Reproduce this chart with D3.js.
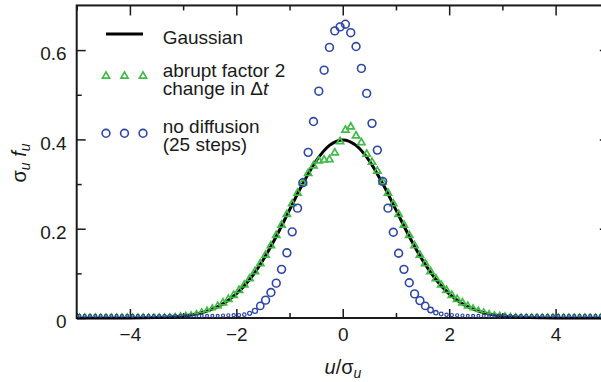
<!DOCTYPE html>
<html>
<head>
<meta charset="utf-8">
<script src="https://cdn.jsdelivr.net/npm/d3@7"></script>
<style>
  body { margin: 0; background: #fff; }
  svg { display: block; font-family: "Liberation Sans", Arial, Helvetica, sans-serif; }
</style>
</head>
<body>
<div id="chart"></div>
<script>
// bin centres (u / sigma_u) shared by both simulated series
const binCenters = [
  -4.95, -4.85, -4.75, -4.65, -4.55, -4.45, -4.35, -4.25, -4.15, -4.05,
  -3.95, -3.85, -3.75, -3.65, -3.55, -3.45, -3.35, -3.25, -3.15, -3.05,
  -2.95, -2.85, -2.75, -2.65, -2.55, -2.45, -2.35, -2.25, -2.15, -2.05,
  -1.95, -1.85, -1.75, -1.65, -1.55, -1.45, -1.35, -1.25, -1.15, -1.05,
  -0.95, -0.85, -0.75, -0.65, -0.55, -0.45, -0.35, -0.25, -0.15, -0.05,
  0.05, 0.15, 0.25, 0.35, 0.45, 0.55, 0.65, 0.75, 0.85, 0.95,
  1.05, 1.15, 1.25, 1.35, 1.45, 1.55, 1.65, 1.75, 1.85, 1.95,
  2.05, 2.15, 2.25, 2.35, 2.45, 2.55, 2.65, 2.75, 2.85, 2.95,
  3.05, 3.15, 3.25, 3.35, 3.45, 3.55, 3.65, 3.75, 3.85, 3.95,
  4.05, 4.15, 4.25, 4.35, 4.45, 4.55, 4.65, 4.75, 4.85, 4.95
];

// abrupt factor 2 change in dt (green triangles)
const abruptValues = [
  0.006, 0.006, 0.006, 0.006, 0.006, 0.006, 0.006, 0.006, 0.006, 0.006,
  0.006, 0.006, 0.006, 0.006, 0.006, 0.006, 0.006, 0.0065, 0.007, 0.008,
  0.009, 0.010, 0.012, 0.015, 0.018, 0.022, 0.027, 0.034, 0.042, 0.051,
  0.062, 0.074, 0.088, 0.104, 0.122, 0.141, 0.162, 0.185, 0.208, 0.232,
  0.256, 0.280, 0.303, 0.324, 0.341, 0.352, 0.354, 0.355, 0.370, 0.395,
  0.421, 0.428, 0.408, 0.393, 0.367, 0.349, 0.329, 0.305, 0.280, 0.256,
  0.232, 0.208, 0.185, 0.162, 0.141, 0.122, 0.104, 0.088, 0.074, 0.062,
  0.051, 0.042, 0.034, 0.027, 0.022, 0.018, 0.015, 0.012, 0.010, 0.009,
  0.008, 0.007, 0.0065, 0.006, 0.006, 0.006, 0.006, 0.006, 0.006, 0.006,
  0.006, 0.006, 0.006, 0.006, 0.006, 0.006, 0.006, 0.006, 0.006, 0.006
];

// no diffusion, 25 steps (blue circles)
const noDiffValues = [
  0.005, 0.005, 0.005, 0.005, 0.005, 0.005, 0.005, 0.005, 0.005, 0.005,
  0.005, 0.005, 0.005, 0.005, 0.005, 0.005, 0.005, 0.005, 0.005, 0.005,
  0.005, 0.005, 0.005, 0.005, 0.005, 0.005, 0.005, 0.0055, 0.006, 0.0062,
  0.0065, 0.0075, 0.0105, 0.016, 0.027, 0.040, 0.057, 0.078, 0.109, 0.146,
  0.193, 0.246, 0.303, 0.371, 0.440, 0.508, 0.555, 0.606, 0.643, 0.652,
  0.658, 0.639, 0.608, 0.559, 0.503, 0.436, 0.376, 0.306, 0.246, 0.192,
  0.145, 0.109, 0.079, 0.054, 0.039, 0.027, 0.018, 0.012, 0.009, 0.007,
  0.0065, 0.006, 0.0055, 0.005, 0.005, 0.005, 0.005, 0.005, 0.005, 0.005,
  0.005, 0.005, 0.005, 0.005, 0.005, 0.005, 0.005, 0.005, 0.005, 0.005,
  0.005, 0.005, 0.005, 0.005, 0.005, 0.005, 0.005, 0.005, 0.005, 0.005
];

// reference Gaussian curve
const gaussU = [-5, -4.5, -4, -3.75, -3.5, -3.25, -3, -2.75, -2.5, -2.25, -2, -1.75, -1.5, -1.25, -1, -0.75, -0.5, -0.25,
  0, 0.25, 0.5, 0.75, 1, 1.25, 1.5, 1.75, 2, 2.25, 2.5, 2.75, 3, 3.25, 3.5, 3.75, 4, 4.5, 5];
const gaussV = [0, 0, 0.0001, 0.0004, 0.0009, 0.0020, 0.0044, 0.0091, 0.0175, 0.0317, 0.0540, 0.0863, 0.1295, 0.1826, 0.2420, 0.3011, 0.3521, 0.3867,
  0.3989, 0.3867, 0.3521, 0.3011, 0.2420, 0.1826, 0.1295, 0.0863, 0.0540, 0.0317, 0.0175, 0.0091, 0.0044, 0.0020, 0.0009, 0.0004, 0.0001, 0, 0];

const xMajor = [-4, -2, 0, 2, 4];
const xMinor = [-5, -3, -1, 1, 3, 5];
const yMajor = [0, 0.2, 0.4, 0.6];
const yMinor = [0.1, 0.3, 0.5];

const width = 601, height = 382;
const plot = {left: 76.7, right: 608.8, top: 5.45, bottom: 318};
const blue = "#2d45a8", green = "#3fbb46";
const triSize = 22, circR = 3.9;

const svg = d3.select("#chart").append("svg")
  .attr("width", width)
  .attr("height", height);

const x = d3.scaleLinear().domain([-5, 5]).range([plot.left, plot.right]);
const y = d3.scaleLinear().domain([0, 0.7]).range([plot.bottom, plot.top]);

// axes: ticks point inward on all four sides
function drawAxis(axis, tx, ty, labels) {
  const g = svg.append("g")
    .attr("transform", "translate(" + tx + "," + ty + ")")
    .call(axis);
  g.select(".domain").remove();
  g.selectAll(".tick line").attr("stroke", "#1a1a1a").attr("stroke-width", 1.5);
  g.selectAll("text").attr("fill", "#1a1a1a").style("font-size", "19px");
  if (!labels) g.selectAll("text").remove();
  return g;
}

const fmtY = d => d === 0 ? "0" : d3.format(".1f")(d);

drawAxis(d3.axisBottom(x).tickValues(xMajor).tickSize(-9).tickPadding(10).tickFormat(d3.format("d")), 0, plot.bottom, true);
drawAxis(d3.axisBottom(x).tickValues(xMinor).tickSize(-5).tickFormat(""), 0, plot.bottom, false);
drawAxis(d3.axisTop(x).tickValues(xMajor).tickSize(-10), 0, plot.top, false);
drawAxis(d3.axisTop(x).tickValues(xMinor).tickSize(-5), 0, plot.top, false);

const yAx = drawAxis(d3.axisLeft(y).tickValues(yMajor).tickSize(-9).tickPadding(10).tickFormat(fmtY), plot.left, 0, true);
yAx.selectAll("text").attr("dy", "0.52em");
drawAxis(d3.axisLeft(y).tickValues(yMinor).tickSize(-5).tickFormat(""), plot.left, 0, false);
drawAxis(d3.axisRight(y).tickValues(yMajor).tickSize(-9), plot.right, 0, false);
drawAxis(d3.axisRight(y).tickValues(yMinor).tickSize(-5), plot.right, 0, false);

// frame
svg.append("rect")
  .attr("x", plot.left).attr("y", plot.top)
  .attr("width", plot.right - plot.left).attr("height", plot.bottom - plot.top)
  .attr("fill", "none")
  .attr("stroke", "#1a1a1a")
  .attr("stroke-width", 2);

// Gaussian line
const gauss = gaussU.map((u, i) => ({u: u, v: gaussV[i]}));
svg.append("path")
  .datum(gauss)
  .attr("fill", "none")
  .attr("stroke", "#000")
  .attr("stroke-width", 3)
  .attr("d", d3.line().x(d => x(d.u)).y(d => y(d.v)).curve(d3.curveMonotoneX));

// markers shrink where the density is close to zero
const shrink = v => Math.min(1, 0.25 + 0.75 * v / 0.03);

const abrupt = binCenters.map((u, i) => ({u: u, v: abruptValues[i]}));
const noDiff = binCenters.map((u, i) => ({u: u, v: noDiffValues[i]}));

svg.append("g").selectAll("path")
  .data(abrupt)
  .join("path")
  .attr("transform", d => "translate(" + x(d.u) + "," + y(d.v) + ")")
  .attr("d", d => d3.symbol(d3.symbolTriangle, triSize * shrink(d.v) * shrink(d.v))())
  .attr("fill", "none")
  .attr("stroke", green)
  .attr("stroke-linejoin", "miter")
  .attr("stroke-width", d => 0.9 + 0.8 * shrink(d.v));

svg.append("g").selectAll("circle")
  .data(noDiff)
  .join("circle")
  .attr("cx", d => x(d.u))
  .attr("cy", d => y(d.v))
  .attr("r", d => circR * shrink(d.v))
  .attr("fill", "none")
  .attr("stroke", blue)
  .attr("stroke-width", d => 0.9 + 0.7 * shrink(d.v));

// legend
const legend = svg.append("g").style("font-size", "19px").attr("fill", "#1a1a1a");
const legendX = [106, 124.5, 143];

legend.append("line")
  .attr("x1", 106).attr("x2", 143)
  .attr("y1", 34).attr("y2", 34)
  .attr("stroke", "#000").attr("stroke-width", 3);
legend.append("text").attr("x", 162.7).attr("y", 44.3).text("Gaussian");

legend.selectAll(".lt")
  .data(legendX)
  .join("path")
  .attr("transform", d => "translate(" + d + ",76)")
  .attr("d", d3.symbol(d3.symbolTriangle, triSize)())
  .attr("fill", "none").attr("stroke", green).attr("stroke-width", 1.7);
legend.append("text").attr("x", 162.7).attr("y", 76.7).text("abrupt factor 2");
const t2 = legend.append("text").attr("x", 162.7).attr("y", 95);
t2.append("tspan").text("change in Δ");
t2.append("tspan").style("font-style", "italic").text("t");

legend.selectAll(".lc")
  .data(legendX)
  .join("circle")
  .attr("cx", d => d).attr("cy", 133.3).attr("r", circR)
  .attr("fill", "none").attr("stroke", blue).attr("stroke-width", 1.6);
legend.append("text").attr("x", 162.7).attr("y", 132.7).text("no diffusion");
legend.append("text").attr("x", 162.7).attr("y", 150.7).text("(25 steps)");

// axis titles
const xt = svg.append("text")
  .attr("x", 343).attr("y", 374)
  .attr("text-anchor", "middle")
  .attr("fill", "#1a1a1a")
  .style("font-size", "20px");
xt.append("tspan").style("font-style", "italic").text("u");
xt.append("tspan").text("/σ");
xt.append("tspan").style("font-style", "italic").style("font-size", "14px").attr("dy", 4).text("u");

const yt = svg.append("text")
  .attr("transform", "translate(26,163) rotate(-90)")
  .attr("text-anchor", "middle")
  .attr("fill", "#1a1a1a")
  .style("font-size", "20px");
yt.append("tspan").text("σ");
yt.append("tspan").style("font-style", "italic").style("font-size", "14px").attr("dy", 4).text("u");
yt.append("tspan").attr("dy", -4).text(" ");
yt.append("tspan").style("font-style", "italic").text("f");
yt.append("tspan").style("font-style", "italic").style("font-size", "14px").attr("dy", 4).text("u");
</script>
</body>
</html>
